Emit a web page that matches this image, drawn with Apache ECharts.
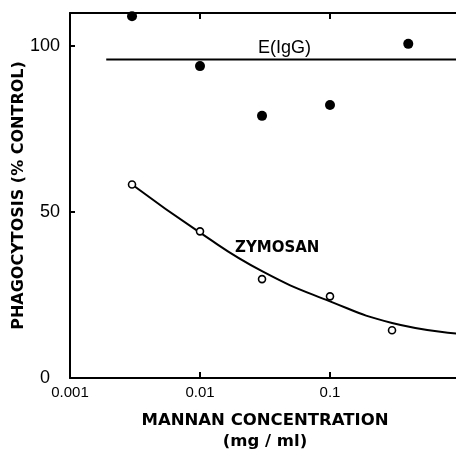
<!DOCTYPE html>
<html><head><meta charset="utf-8">
<script src="https://cdn.jsdelivr.net/npm/echarts/dist/echarts.min.js"></script>
<style>html,body{margin:0;padding:0;background:#fff}#c{width:456px;height:450px}</style>
</head><body><div id="c"></div>
<script>
// x tick labels by decade exponent
const xTickLabels = { '-3': '0.001', '-2': '0.01', '-1': '0.1' };
const yTickLabels = ['0', '50', '100'];
// E(IgG) filled points  [mannan mg/ml, % control]
const iggPoints = [[0.003, 109], [0.01, 94], [0.03, 79], [0.1, 82.3], [0.4, 100.7]];
// E(IgG) horizontal reference level
const iggLevel = [[0.0019, 96], [1, 96]];
// Zymosan open points
const zymosanPoints = [[0.003, 58.3], [0.01, 44.2], [0.03, 29.8], [0.1, 24.6], [0.3, 14.4]];
// Zymosan fitted curve
const zymosanCurve = [[0.003, 58.3], [0.01, 43.8], [0.03, 32.2], [0.1, 23.1], [0.3, 16.6], [1, 13.3]];

const chart = echarts.init(document.getElementById('c'), null, { renderer: 'canvas' });
const black = '#000';
const font = 'Liberation Sans';
chart.setOption({
  animation: false,
  backgroundColor: '#fff',
  grid: { left: 70, right: -4, top: 13, bottom: 72, containLabel: false, outerBoundsMode: 'none' },
  xAxis: [{
    type: 'log', logBase: 10, min: 0.001, max: 1, position: 'bottom',
    axisLine: { show: true, lineStyle: { color: black, width: 2 } },
    axisTick: { show: true, inside: true, length: 6, lineStyle: { color: black, width: 2 } },
    minorTick: { show: false }, splitLine: { show: false },
    axisLabel: {
      color: black, fontFamily: font, fontSize: 15, margin: 7,
      formatter: v => xTickLabels[String(Math.round(Math.log10(v)))] || ''
    },
    name: 'MANNAN CONCENTRATION\n(mg / ml)', nameLocation: 'middle', nameGap: 32,
    nameTextStyle: { color: black, fontFamily: 'DejaVu Sans', fontWeight: 'bold', fontSize: 16.5, lineHeight: 21 }
  }, {
    type: 'log', logBase: 10, min: 0.001, max: 1, position: 'top',
    axisLine: { show: true, lineStyle: { color: black, width: 2 } },
    axisTick: { show: true, inside: true, length: 6, lineStyle: { color: black, width: 2 } },
    axisLabel: { show: false }, splitLine: { show: false }
  }],
  yAxis: [{
    type: 'value', min: 0, max: 110, interval: 50,
    axisLine: { show: true, lineStyle: { color: black, width: 2 } },
    axisTick: { show: true, inside: true, length: 5, lineStyle: { color: black, width: 2 } },
    splitLine: { show: false },
    axisLabel: {
      color: black, fontFamily: font, fontSize: 18, margin: 10,
      formatter: v => {
        const s = String(v);
        if (!yTickLabels.includes(s)) return '';
        return s === '0' ? '{z|0}' : s;
      },
      rich: { z: { color: black, fontFamily: font, fontSize: 18, padding: [0, 10, 0, 0] } }
    },
    name: 'PHAGOCYTOSIS (% CONTROL)', nameLocation: 'middle', nameGap: 43, nameMoveOverlap: false,
    nameTextStyle: { color: black, fontFamily: 'DejaVu Sans', fontWeight: 'bold', fontSize: 16 }
  }],
  series: [{
    type: 'line', data: iggLevel, showSymbol: false, symbol: 'none',
    lineStyle: { color: black, width: 2 }, silent: true
  }, {
    type: 'line', data: zymosanCurve, smooth: 0.5, showSymbol: false, symbol: 'none',
    lineStyle: { color: black, width: 2 }, silent: true
  }, {
    type: 'scatter', data: iggPoints, symbol: 'circle', symbolSize: 10,
    itemStyle: { color: black, opacity: 1 }
  }, {
    type: 'scatter', data: zymosanPoints, symbol: 'circle', symbolSize: 7,
    itemStyle: { color: '#fff', borderColor: black, borderWidth: 1.6, opacity: 1 }, z: 5
  }],
  graphic: [{
    type: 'text', left: 258, top: 39,
    style: { text: 'E(IgG)', fill: black, font: '18px "Liberation Sans"' }
  }, {
    type: 'text', left: 235, top: 241,
    style: { text: 'ZYMOSAN', fill: black, font: 'bold 15px "DejaVu Sans"' }
  }]
});
</script></body></html>
